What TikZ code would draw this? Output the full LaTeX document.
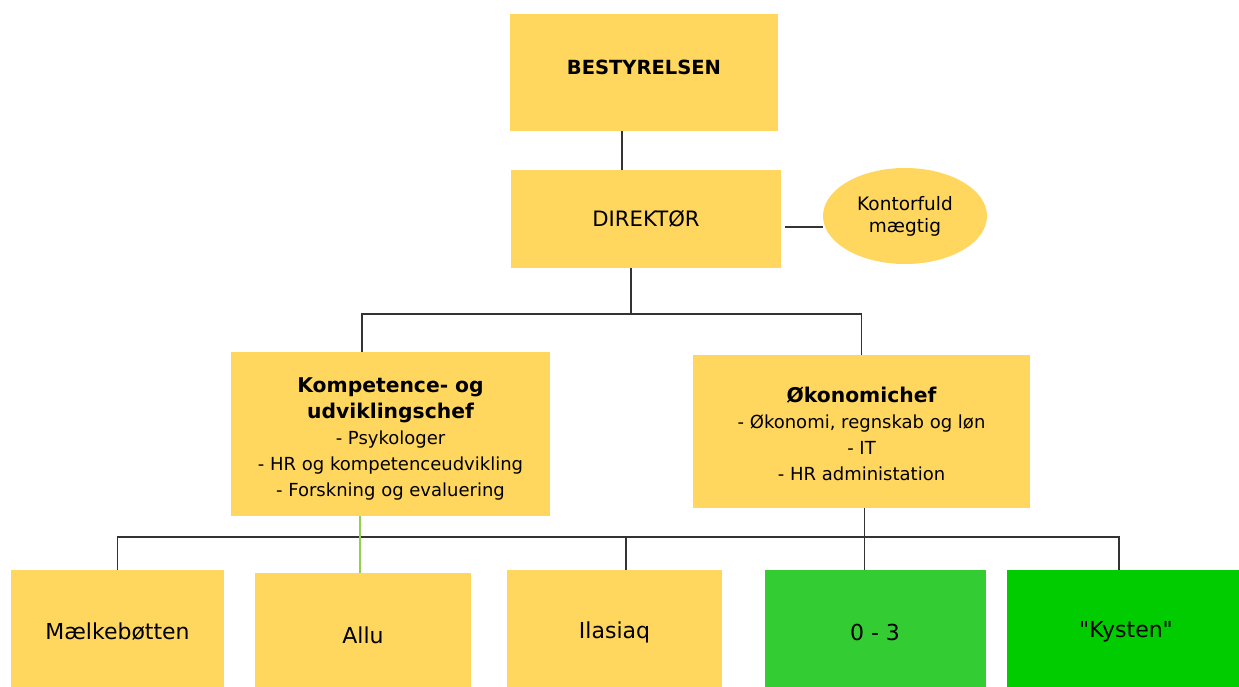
\documentclass[tikz,border=0pt]{standalone}
\usepackage{fontspec}
\setmainfont{DejaVu Sans}
\usetikzlibrary{shapes.geometric}
\definecolor{boxyellow}{RGB}{255,215,95}
\definecolor{lightgreen}{RGB}{51,204,51}
\definecolor{darkgreen}{RGB}{0,204,0}
\definecolor{linkgreen}{RGB}{146,208,80}

\newcommand{\titlefont}{\fontsize{20.3}{26}\selectfont\bfseries}
\newcommand{\subfont}{\fontsize{18}{24.5}\selectfont\mdseries}
\newcommand{\subfontb}{\fontsize{18}{23.5}\selectfont\mdseries}

\tikzset{
  orgbox/.style={rectangle, fill=boxyellow, inner sep=0pt, outer sep=0pt, align=center},
  unitbox/.style={orgbox, minimum height=124pt, font=\fontsize{22}{24}\selectfont},
  link/.style={draw=black!80, line width=1.6pt},
  greenlink/.style={draw=linkgreen, line width=1.6pt},
}

\begin{document}
\begin{tikzpicture}[x=1pt, y=-1pt]
  \useasboundingbox (0,0) rectangle (1239,686);
  % ledelse
  \node[orgbox, minimum width=268pt, minimum height=117pt] (best) at (644,72.5) {};
  \node[font=\fontsize{19.5}{24}\selectfont\bfseries] (besttxt) at (644,67) {BESTYRELSEN};
  \node[orgbox, minimum width=270pt, minimum height=98pt, font=\fontsize{21.2}{24}\selectfont] (dir) at (646,219) {DIREKTØR};
  \node[ellipse, fill=boxyellow, inner sep=0pt, outer sep=0pt, minimum width=164pt, minimum height=96pt,
        align=center, font=\fontsize{18.5}{22}\selectfont] (kont) at (905,216) {Kontorfuld\\mægtig};
  % chefer
  \node[orgbox, minimum width=319pt, minimum height=164pt, font=\titlefont] (komp) at (390.5,434)
    {\rule{0pt}{24pt}Kompetence- og\\ udviklingschef\\ \subfont - Psykologer\\ \subfont - HR og kompetenceudvikling\\
     \subfont - Forskning og evaluering};
  \node[orgbox, minimum width=337pt, minimum height=153pt, font=\titlefont] (okon) at (861.5,431.5)
    {\rule{0pt}{20pt}Økonomichef\\ \subfontb - Økonomi, regnskab og løn\\ \subfontb - IT\\ \subfontb - HR administation};
  % enheder
  \node[unitbox, minimum width=213pt] (mael) at (117.5,632) {Mælkebøtten};
  \node[unitbox, minimum width=216pt] (allu) at (363,635) {Allu};
  \node[unitbox, minimum width=215pt] (ilas) at (614.5,632) {Ilasiaq};
  \node[unitbox, minimum width=221pt, fill=lightgreen] (zero) at (875,632) {0 - 3};
  \node[unitbox, minimum width=238pt, fill=darkgreen] (kyst) at (1126,632) {\textquotedbl Kysten\textquotedbl};
  \coordinate (bus1) at (0,314);
  \coordinate (bus2) at (0,537);
  % streger
  \draw[link] ([xshift=-22pt]best.south) -- ([xshift=-24pt]dir.north);
  \draw[link] ([shift={(4pt,-8pt)}]dir.east) -- ([yshift=-8pt]dir.east -| kont.west);
  \draw[link] ([xshift=-15pt]dir.south) -- ([xshift=-15pt]dir.south |- bus1);
  \draw[link] ([xshift=-28.5pt]komp.north) |- (bus1 -| okon.north) -- (okon.north);
  \draw[link] (mael.north) |- ([xshift=-7pt]bus2 -| kyst.north) -- ([xshift=-7pt]kyst.north);
  \draw[link] ([xshift=11.5pt]ilas.north) -- ([xshift=11.5pt]ilas.north |- bus2);
  \draw[link] ([xshift=3pt]okon.south) -- ([xshift=3pt]okon.south |- zero.north);
  \draw[greenlink] ([xshift=-30.5pt]komp.south) -- ([xshift=-30.5pt]komp.south |- allu.north);
\end{tikzpicture}
\end{document}
